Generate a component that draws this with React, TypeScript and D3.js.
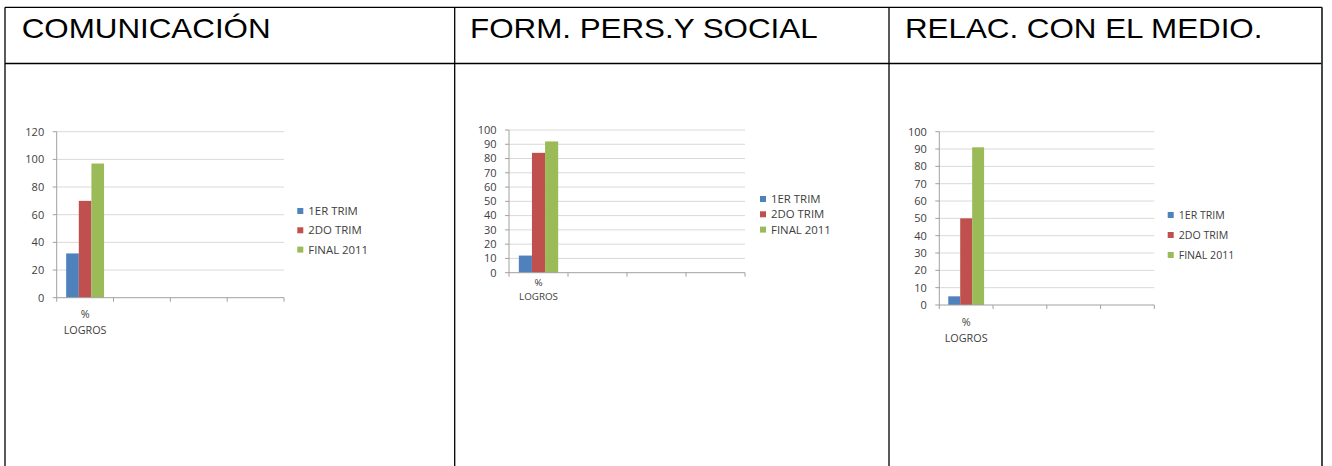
import React from "react";
import * as d3 from "d3";

// ---- data ----
const titles = ["COMUNICACIÓN", "FORM. PERS.Y SOCIAL", "RELAC. CON EL MEDIO."];
const categories = ["% LOGROS", "c2", "c3", "c4"];
const seriesNames = ["1ER TRIM", "2DO TRIM", "FINAL 2011"];
const comunicacionValues = [32, 70, 97];
const formPersValues = [12, 84, 92];
const relacValues = [5, 50, 91];
const ticks1 = [0, 20, 40, 60, 80, 100, 120];
const ticks2 = [0, 10, 20, 30, 40, 50, 60, 70, 80, 90, 100];
const ticks3 = [0, 10, 20, 30, 40, 50, 60, 70, 80, 90, 100];

const colors = ["#4f81bd", "#c0504d", "#9bbb59"];
const chartFont = "'Open Sans', 'Noto Sans', sans-serif";
const textColor = "#404040";

type ChartProps = {
  values: number[];
  ticks: number[];
  left: number;
  right: number;
  top: number;
  bottom: number;
  legendX: number;
  legendY: number;
  legendGap: number;
  labelY1: number;
  labelY2: number;
  fontSize: number;
  labelFont: number;
  legendFont: number;
};

function Chart(p: ChartProps) {
  const yMax = d3.max(p.ticks) as number;
  const y = d3.scaleLinear().domain([0, yMax]).range([p.bottom, p.top]);
  const x0 = d3.scaleBand<string>().domain(categories).range([p.left, p.right]).padding(0);
  const x1 = d3
    .scaleBand<string>()
    .domain(seriesNames)
    .range([0, x0.bandwidth()])
    .paddingInner(0)
    .paddingOuter(0.75);
  const cat = categories[0];
  const bx = x0(cat) as number;
  const labelLines = cat.split(" ");
  return (
    <g>
      {p.ticks.slice(1).map((t) => (
        <line key={"g" + t} x1={p.left} x2={p.right} y1={y(t)} y2={y(t)} stroke="#d9d9d9" strokeWidth={1} />
      ))}
      {p.ticks.map((t) => (
        <g key={"t" + t}>
          <line x1={p.left - 4} x2={p.left} y1={y(t)} y2={y(t)} stroke="#a0a0a0" strokeWidth={1} />
          <text
            x={p.left - 12.5}
            y={y(t)}
            dy="0.35em"
            textAnchor="end"
            fontFamily={chartFont}
            fontSize={p.fontSize}
            fill={textColor}
          >
            {t}
          </text>
        </g>
      ))}
      {seriesNames.map((s, i) => (
        <rect
          key={s}
          x={bx + (x1(s) as number)}
          width={x1.bandwidth()}
          y={y(p.values[i])}
          height={p.bottom - y(p.values[i])}
          fill={colors[i]}
        />
      ))}
      <line x1={p.left} x2={p.left} y1={p.top} y2={p.bottom} stroke="#a0a0a0" strokeWidth={1} />
      <line x1={p.left} x2={p.right} y1={p.bottom} y2={p.bottom} stroke="#a0a0a0" strokeWidth={1} />
      {[...categories.map((c) => x0(c) as number), p.right].map((xx, i) => (
        <line key={"xt" + i} x1={xx} x2={xx} y1={p.bottom} y2={p.bottom + 4} stroke="#a0a0a0" strokeWidth={1} />
      ))}
      {labelLines.map((ln, i) => (
        <text
          key={"cl" + i}
          x={bx + x0.bandwidth() / 2}
          y={i === 0 ? p.labelY1 : p.labelY2}
          dy="0.35em"
          textAnchor="middle"
          fontFamily={chartFont}
          fontSize={p.labelFont}
          fill={textColor}
        >
          {ln}
        </text>
      ))}
      {seriesNames.map((s, i) => (
        <g key={"l" + s}>
          <rect x={p.legendX} y={p.legendY + i * p.legendGap - 3} width={6} height={6} fill={colors[i]} />
          <text
            x={p.legendX + 11}
            y={p.legendY + i * p.legendGap}
            dy="0.35em"
            fontFamily={chartFont}
            fontSize={p.legendFont}
            fill={textColor}
          >
            {s}
          </text>
        </g>
      ))}
    </g>
  );
}

export default function App() {
  const W = 1332;
  const H = 466;
  const colX = [5, 454.7, 889, 1322];
  const topY = 7.3;
  const headY = 63.5;
  const titleX = [21.7, 470, 905];
  return (
    <svg width={W} height={H} style={{ position: "absolute", left: 0, top: 0, background: "#fff" }}>
      <rect x={0} y={0} width={W} height={H} fill="#fff" />
      {titles.map((t, i) => (
        <text
          key={t}
          x={0}
          y={0}
          transform={`translate(${titleX[i]},37.7) scale(1.1,1)`}
          fontFamily="'Liberation Sans', Arial, sans-serif"
          fontSize={28.5}
          fill="#000"
        >
          {t}
        </text>
      ))}
      <line x1={colX[0]} x2={colX[3]} y1={topY} y2={topY} stroke="#000" strokeWidth={1.3} />
      <line x1={colX[0]} x2={colX[3]} y1={headY} y2={headY} stroke="#000" strokeWidth={1.3} />
      {colX.map((x, i) => (
        <line key={"c" + i} x1={x} x2={x} y1={topY} y2={H} stroke={i === 3 ? "#333" : "#000"} strokeWidth={i === 3 ? 1.8 : 1.3} />
      ))}
      <Chart
        values={comunicacionValues}
        ticks={ticks1}
        left={56.7}
        right={284}
        top={131.7}
        bottom={297.7}
        legendX={297.3}
        legendY={211}
        legendGap={19.3}
        labelY1={314.3}
        labelY2={330}
        fontSize={11}
        labelFont={10.8}
        legendFont={11.4}
      />
      <Chart
        values={formPersValues}
        ticks={ticks2}
        left={509}
        right={745}
        top={130}
        bottom={272.7}
        legendX={760}
        legendY={199}
        legendGap={15.3}
        labelY1={282.7}
        labelY2={296.2}
        fontSize={11}
        labelFont={9.8}
        legendFont={11.4}
      />
      <Chart
        values={relacValues}
        ticks={ticks3}
        left={939.3}
        right={1154.3}
        top={131.7}
        bottom={305}
        legendX={1167.7}
        legendY={215}
        legendGap={20}
        labelY1={322.3}
        labelY2={338.3}
        fontSize={11}
        labelFont={10.8}
        legendFont={10.6}
      />
    </svg>
  );
}
